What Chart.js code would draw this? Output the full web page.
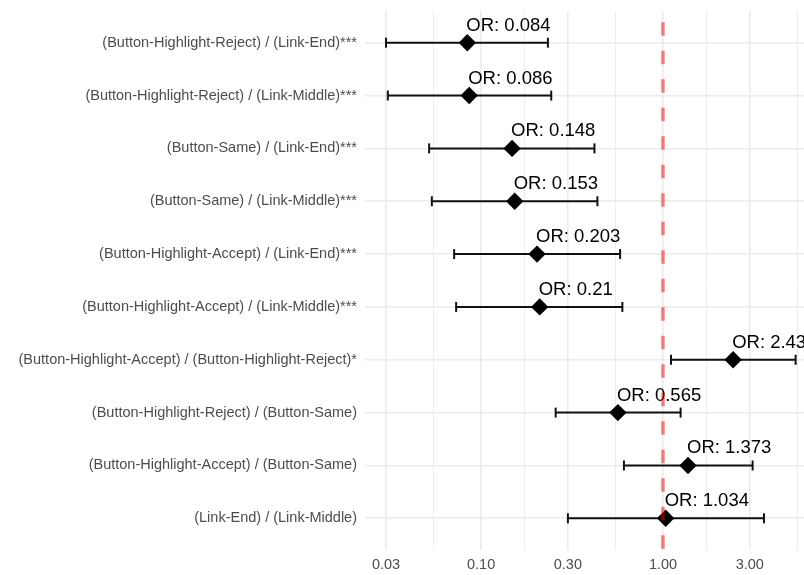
<!DOCTYPE html>
<html>
<head>
<meta charset="utf-8">
<script src="https://cdn.jsdelivr.net/npm/chart.js@4/dist/chart.umd.min.js"></script>
<style>
  html, body { margin: 0; padding: 0; background: #ffffff; }
  #wrap { width: 804px; height: 575px; }
</style>
</head>
<body>
<div id="wrap"><canvas id="c" width="804" height="575"></canvas></div>
<script>
// ---- data ----
const comparisons = [
  "(Button-Highlight-Reject) / (Link-End)***",
  "(Button-Highlight-Reject) / (Link-Middle)***",
  "(Button-Same) / (Link-End)***",
  "(Button-Same) / (Link-Middle)***",
  "(Button-Highlight-Accept) / (Link-End)***",
  "(Button-Highlight-Accept) / (Link-Middle)***",
  "(Button-Highlight-Accept) / (Button-Highlight-Reject)*",
  "(Button-Highlight-Reject) / (Button-Same)",
  "(Button-Highlight-Accept) / (Button-Same)",
  "(Link-End) / (Link-Middle)"
];
const oddsRatio = [0.084, 0.086, 0.148, 0.153, 0.203, 0.21, 2.43, 0.565, 1.373, 1.034];
const ciLower   = [0.030, 0.0307, 0.0518, 0.0536, 0.0711, 0.0729, 1.107, 0.257, 0.610, 0.300];
const ciUpper   = [0.233, 0.243, 0.420, 0.436, 0.581, 0.598, 5.36, 1.25, 3.11, 3.59];
const majorTicks = [0.03, 0.1, 0.3, 1, 3];
const minorTicks = [0.05477, 0.1732, 0.5477, 1.732, 5.477];
const referenceOR = 1;

// ---- datasets ----
const rowIndex = comparisons.map((_, i) => i + 1);

const errorBarSets = rowIndex.map((r, i) => ({
  type: 'line',
  data: [{x: ciLower[i], y: r}, {x: ciUpper[i], y: r}],
  borderColor: '#111111',
  borderWidth: 2,
  pointStyle: 'line',
  pointRotation: 90,
  pointRadius: 5,
  pointBorderColor: '#111111',
  pointBorderWidth: 2,
  fill: false,
  order: 3
}));

const pointSet = {
  type: 'scatter',
  data: rowIndex.map((r, i) => ({x: oddsRatio[i], y: r})),
  pointStyle: 'rectRot',
  pointRadius: 8.7,
  backgroundColor: '#000000',
  borderColor: '#000000',
  borderWidth: 0,
  order: 2
};

const refLineSet = {
  type: 'line',
  data: [{x: referenceOR, y: 0.4}, {x: referenceOR, y: 10.6}],
  borderColor: 'rgba(255,0,0,0.5)',
  borderWidth: 3.5,
  borderDash: [13.5, 15],
  borderDashOffset: 17.3,
  pointRadius: 0,
  fill: false,
  order: 0
};

const FONT = "'Liberation Sans', Arial, Helvetica, sans-serif";

const orLabels = {
  id: 'orLabels',
  beforeDatasetsDraw(chart) {
    const xs = chart.scales.x, ys = chart.scales.y;
    const ctx = chart.ctx;
    ctx.save();
    ctx.font = '18.5px ' + FONT;
    ctx.fillStyle = '#000000';
    ctx.textAlign = 'left';
    ctx.textBaseline = 'alphabetic';
    oddsRatio.forEach((v, i) => {
      const px = xs.getPixelForValue(v);
      const py = ys.getPixelForValue(i + 1);
      ctx.fillText('OR: ' + v, px - 1, py - 12);
    });
    ctx.restore();
  }
};

new Chart(document.getElementById('c'), {
  data: { datasets: [...errorBarSets, pointSet, refLineSet] },
  options: {
    responsive: false,
    animation: false,
    events: [],
    layout: { autoPadding: false, padding: { top: 11, right: 0, left: 0, bottom: 0 } },
    plugins: { legend: { display: false }, tooltip: { enabled: false } },
    scales: {
      x: {
        type: 'logarithmic',
        min: 0.0230,
        max: 5.96,
        afterBuildTicks(scale) {
          const all = majorTicks.map(v => ({value: v, major: true}))
            .concat(minorTicks.map(v => ({value: v, major: false})));
          all.sort((a, b) => a.value - b.value);
          scale.ticks = all;
        },
        afterFit(scale) { scale.height = 25; scale.paddingLeft = 0; scale.paddingRight = 0; },
        border: { display: false },
        grid: {
          drawTicks: false,
          color: '#ebebeb',
          lineWidth: (ctx) => (ctx.tick && majorTicks.includes(ctx.tick.value)) ? 1.6 : 0.9
        },
        ticks: {
          autoSkip: false,
          maxRotation: 0,
          padding: 6,
          color: '#4d4d4d',
          font: { family: FONT, size: 14.5 },
          callback: (v) => majorTicks.includes(v) ? Number(v).toFixed(2) : ''
        }
      },
      y: {
        type: 'linear',
        reverse: true,
        min: 0.4,
        max: 10.6,
        afterBuildTicks(scale) {
          scale.ticks = rowIndex.map(r => ({value: r}));
        },
        afterFit(scale) { scale.width = 365; scale.paddingTop = 0; scale.paddingBottom = 0; },
        border: { display: false },
        grid: { drawTicks: false, color: '#ebebeb', lineWidth: 1.6 },
        ticks: {
          autoSkip: false,
          padding: 8,
          color: '#4d4d4d',
          font: { family: FONT, size: 14.5 },
          callback: (v) => comparisons[v - 1] || ''
        }
      }
    }
  },
  plugins: [orLabels]
});
</script>
</body>
</html>
